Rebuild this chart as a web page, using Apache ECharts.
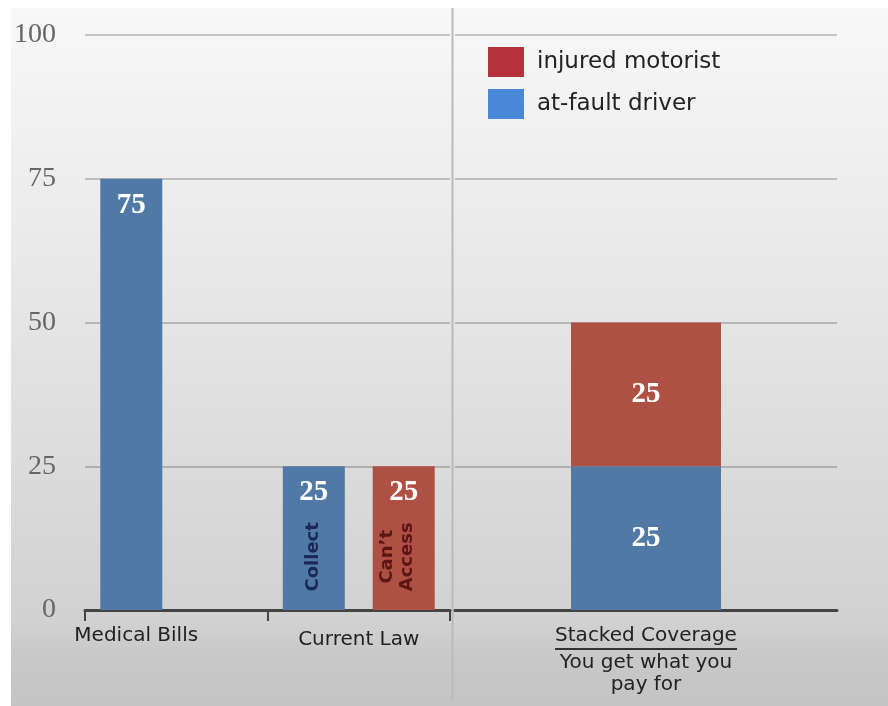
<!DOCTYPE html>
<html>
<head>
<meta charset="utf-8">
<script src="https://cdn.jsdelivr.net/npm/echarts@6/dist/echarts.min.js"></script>
<style>
  html, body { margin: 0; padding: 0; background: #ffffff; }
  #chart { position: absolute; left: 11px; top: 8px; width: 877px; height: 698px; }
</style>
</head>
<body>
<div id="chart"></div>
<script>
// ---- data ----
const categories = ['Medical Bills', 'Current Law'];
const atFaultValues = [75, 25];
const injuredValues = ['-', 25];
const innerBlueText = ['', 'Collect'];
const innerRedText = ['', 'Can\u2019t\nAccess'];

const stackedCategories = ['Stacked Coverage'];
const stackedCaption = ['You get what you', 'pay for'];
const stackedAtFault = [25];
const stackedInjured = [25];

const yMin = 0, yMax = 100, yInterval = 25;
const seriesNames = ['injured motorist', 'at-fault driver'];

// ---- styles ----
const barBlue = '#5079a6';
const barRed = '#af5045';
const legendRed = '#b5323a';
const legendBlue = '#4a87d6';
const axisFont = '"DejaVu Sans"';
const axisFontSize = 20;

const gridA = { left: 72, top: 27, width: 367, height: 575 };
const gridB = { left: 444, top: 27, width: 382, height: 575 };
const sepX = gridA.left + gridA.width + (gridB.left - gridA.left - gridA.width) / 2;

// width of the underlined category text (for the underline bar)
const measureCtx = document.createElement('canvas').getContext('2d');
measureCtx.font = axisFontSize + 'px ' + axisFont;
const underlineWidth = Math.round(measureCtx.measureText(stackedCategories[0]).width);

const chart = echarts.init(document.getElementById('chart'), null, { renderer: 'canvas' });

const valueLabel = {
  show: true,
  color: '#ffffff',
  fontFamily: 'Liberation Serif',
  fontWeight: 'bold',
  fontSize: 29
};

const splitLineStyle = { lineStyle: { color: 'rgba(0,0,0,0.2)', width: 2 } };

const overlayBlue = atFaultValues.map((v, i) => innerBlueText[i] ? v : '-');
const overlayRed = injuredValues.map((v, i) => innerRedText[i] ? v : '-');

const option = {
  animation: false,
  backgroundColor: {
    type: 'linear', x: 0, y: 0, x2: 0, y2: 1,
    colorStops: [
      { offset: 0, color: '#f8f8f8' },
      { offset: 0.45, color: '#e5e5e5' },
      { offset: 0.88, color: '#d1d1d1' },
      { offset: 0.93, color: '#c8c8c8' },
      { offset: 1, color: '#c4c4c4' }
    ]
  },
  grid: [
    Object.assign({ containLabel: false }, gridA),
    Object.assign({ containLabel: false }, gridB)
  ],
  legend: {
    orient: 'vertical',
    left: 477,
    top: 39,
    padding: 0,
    itemWidth: 36,
    itemHeight: 30,
    itemGap: 12,
    icon: 'rect',
    selectedMode: false,
    data: [
      { name: seriesNames[0], itemStyle: { color: legendRed } },
      { name: seriesNames[1], itemStyle: { color: legendBlue } }
    ],
    textStyle: { fontFamily: 'DejaVu Sans', fontSize: 23, color: '#222', padding: [0, 0, 0, 8] }
  },
  xAxis: [
    {
      type: 'category', gridIndex: 0, data: categories,
      axisLine: { lineStyle: { color: '#444', width: 3 } },
      axisTick: { show: true, length: 11, lineStyle: { color: '#444', width: 2 } },
      axisLabel: {
        interval: 0, margin: 16,
        fontFamily: 'DejaVu Sans', fontSize: axisFontSize, color: '#222',
        formatter: function (v) { return v === categories[0] ? '{shift|' + v + '}' : '{low|' + v + '}'; },
        rich: {
          shift: { padding: [0, 80, 0, 0], fontFamily: 'DejaVu Sans', fontSize: axisFontSize, color: '#222' },
          low: { padding: [4, 0, 0, 0], fontFamily: 'DejaVu Sans', fontSize: axisFontSize, color: '#222' }
        }
      }
    },
    {
      type: 'category', gridIndex: 1, data: stackedCategories,
      axisLine: { lineStyle: { color: '#444', width: 3 } },
      axisTick: { show: false },
      axisLabel: {
        interval: 0, margin: 16,
        fontFamily: 'DejaVu Sans', fontSize: axisFontSize, color: '#222',
        formatter: function (v) {
          return '{u|' + v + '}\n{ul| }\n' + stackedCaption.map(s => '{n|' + s + '}').join('\n');
        },
        rich: {
          u: { fontFamily: 'DejaVu Sans', fontSize: axisFontSize, color: '#222', lineHeight: 20 },
          ul: { width: underlineWidth, height: 2, lineHeight: 6, backgroundColor: '#333', fontSize: 2 },
          n: { fontFamily: 'DejaVu Sans', fontSize: axisFontSize, color: '#222', lineHeight: 22 }
        }
      }
    },
    {
      type: 'category', gridIndex: 0, data: categories, show: false
    }
  ],
  yAxis: [
    {
      type: 'value', gridIndex: 0, min: yMin, max: yMax, interval: yInterval,
      axisLine: { show: false }, axisTick: { show: false },
      axisLabel: { margin: 29, fontFamily: 'Liberation Serif', fontSize: 28, color: '#666' },
      splitLine: splitLineStyle
    },
    {
      type: 'value', gridIndex: 1, min: yMin, max: yMax, interval: yInterval,
      axisLine: { show: false }, axisTick: { show: false },
      axisLabel: { show: false },
      splitLine: splitLineStyle
    }
  ],
  series: [
    {
      name: seriesNames[1], type: 'bar', xAxisIndex: 0, yAxisIndex: 0,
      data: atFaultValues, barWidth: 62, barGap: '45%',
      itemStyle: { color: barBlue },
      label: Object.assign({ position: 'insideTop', distance: 12 }, valueLabel)
    },
    {
      name: seriesNames[0], type: 'bar', xAxisIndex: 0, yAxisIndex: 0,
      data: injuredValues, barWidth: 62, barGap: '45%',
      itemStyle: { color: barRed },
      label: Object.assign({ position: 'insideTop', distance: 12 }, valueLabel)
    },
    {
      name: 'collect-label', type: 'bar', xAxisIndex: 2, yAxisIndex: 0,
      data: overlayBlue, barWidth: 62, barGap: '45%', silent: true, z: 5,
      itemStyle: { color: 'rgba(0,0,0,0)' },
      label: {
        show: true, position: ['50%', '63%'], align: 'center', verticalAlign: 'middle', rotate: 90,
        formatter: function (p) { return innerBlueText[p.dataIndex]; },
        fontFamily: 'DejaVu Sans', fontWeight: 'bold', fontSize: 18, lineHeight: 20, color: '#1b2857'
      }
    },
    {
      name: 'access-label', type: 'bar', xAxisIndex: 2, yAxisIndex: 0,
      data: overlayRed, barWidth: 62, barGap: '45%', silent: true, z: 5,
      itemStyle: { color: 'rgba(0,0,0,0)' },
      label: {
        show: true, position: ['40%', '63%'], align: 'center', verticalAlign: 'middle', rotate: 90,
        formatter: function (p) { return innerRedText[p.dataIndex]; },
        fontFamily: 'DejaVu Sans', fontWeight: 'bold', fontSize: 18, lineHeight: 20, color: '#5a1712'
      }
    },
    {
      name: seriesNames[1], type: 'bar', xAxisIndex: 1, yAxisIndex: 1, stack: 'coverage',
      data: stackedAtFault, barWidth: 150,
      itemStyle: { color: barBlue },
      label: Object.assign({ position: 'inside' }, valueLabel)
    },
    {
      name: seriesNames[0], type: 'bar', xAxisIndex: 1, yAxisIndex: 1, stack: 'coverage',
      data: stackedInjured, barWidth: 150,
      itemStyle: { color: barRed },
      label: Object.assign({ position: 'inside' }, valueLabel)
    }
  ],
  graphic: [
    {
      type: 'line', silent: true, z: -1,
      shape: { x1: sepX, y1: 0, x2: sepX, y2: 692 },
      style: { stroke: '#bababa', lineWidth: 2 }
    }
  ]
};

chart.setOption(option);
</script>
</body>
</html>
